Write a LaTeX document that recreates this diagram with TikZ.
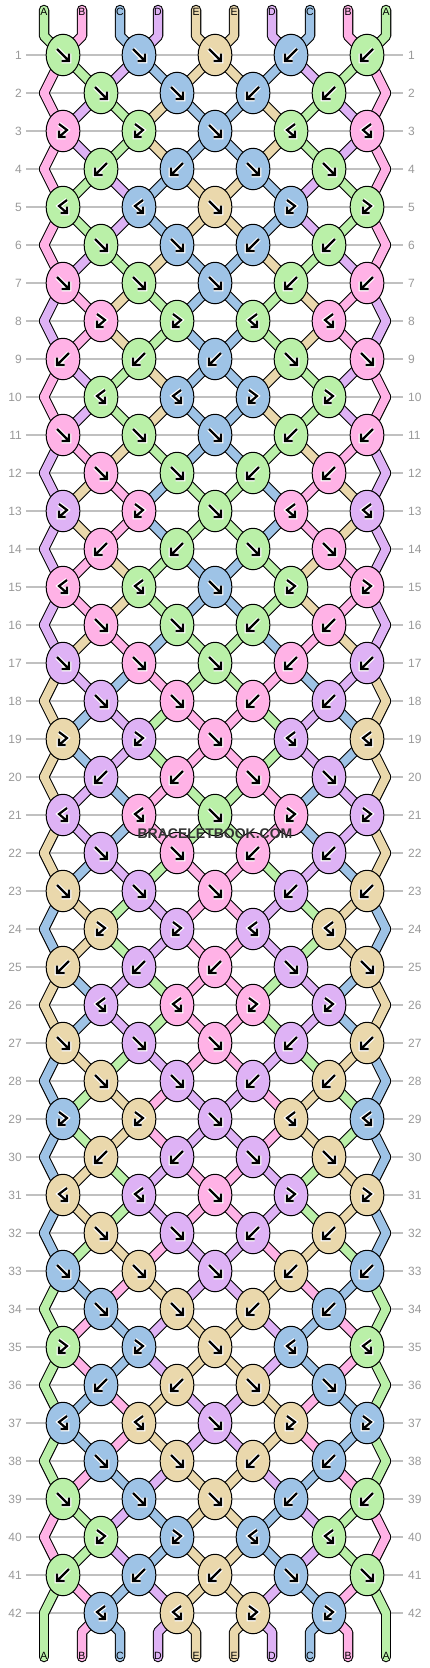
\documentclass[tikz,border=0pt]{standalone}
\usepackage{fontspec}
\setmainfont{Liberation Sans}
\usetikzlibrary{shapes.geometric}
\definecolor{cA}{HTML}{BAF0A8}
\definecolor{cB}{HTML}{FFB2E6}
\definecolor{cC}{HTML}{9EC3E6}
\definecolor{cD}{HTML}{DEB2F5}
\definecolor{cE}{HTML}{EAD8AC}
\definecolor{gridgray}{HTML}{C0C0C0}
\definecolor{numgray}{HTML}{999999}
\definecolor{wmgray}{HTML}{333333}
\def\setrow#1#2{\expandafter\def\csname rt#1\endcsname{#2}}
\setrow{1}{f,f,f,b,b}\setrow{2}{f,f,b,b}\setrow{3}{p,p,f,q,q}\setrow{4}{b,b,f,f}
\setrow{5}{q,q,f,p,p}\setrow{6}{f,f,b,b}\setrow{7}{f,f,f,b,b}\setrow{8}{p,p,q,q}
\setrow{9}{b,b,b,f,f}\setrow{10}{q,q,p,p}\setrow{11}{f,f,f,b,b}\setrow{12}{f,f,b,b}
\setrow{13}{p,p,f,q,q}\setrow{14}{b,b,f,f}\setrow{15}{q,q,f,p,p}\setrow{16}{f,f,b,b}
\setrow{17}{f,f,f,b,b}\setrow{18}{f,f,b,b}\setrow{19}{p,p,f,q,q}\setrow{20}{b,b,f,f}
\setrow{21}{q,q,f,p,p}\setrow{22}{f,f,b,b}\setrow{23}{f,f,f,b,b}\setrow{24}{p,p,q,q}
\setrow{25}{b,b,b,f,f}\setrow{26}{q,q,p,p}\setrow{27}{f,f,f,b,b}\setrow{28}{f,f,b,b}
\setrow{29}{p,p,f,q,q}\setrow{30}{b,b,f,f}\setrow{31}{q,q,f,p,p}\setrow{32}{f,f,b,b}
\setrow{33}{f,f,f,b,b}\setrow{34}{f,f,b,b}\setrow{35}{p,p,f,q,q}\setrow{36}{b,b,f,f}
\setrow{37}{q,q,f,p,p}\setrow{38}{f,f,b,b}\setrow{39}{f,f,f,b,b}\setrow{40}{p,p,q,q}
\setrow{41}{b,b,b,f,f}\setrow{42}{q,q,p,p}
\def\Tf{f}\def\Tb{b}\def\Tp{p}\def\Tq{q}
\tikzset{
 knot/.style={ellipse, draw=black, line width=1pt, minimum width=33.7pt, minimum height=41.5pt, inner sep=0pt},
 sblk/.style={draw=black, line width=10.5pt, line cap=round, line join=round},
 scol/.style={line width=8.3pt, line cap=round, line join=round},
 gly/.style={draw=black, line width=2.2pt, line join=miter, preaction={draw=white, line width=4.6pt, line cap=square}},
 gridline/.style={draw=gridgray, line width=1.3pt},
 rownum/.style={text=numgray, font=\fontsize{12}{14}\selectfont, inner sep=0pt},
 strlabel/.style={font=\fontsize{10.5}{12}\selectfont, inner sep=0pt},
}
\newcommand\glyf[1]{\draw[gly,shift={(#1)}] (-6,-6)--(6,6) (6,-1.5)--(6,6)--(-1.5,6);}
\newcommand\glyb[1]{\draw[gly,shift={(#1)}] (6,-6)--(-6,6) (-6,-1.5)--(-6,6)--(1.5,6);}
\newcommand\glyp[1]{\draw[gly,shift={(#1)}] (-4,-7)--(4,-1)--(-4,6) (-4,-0.5)--(-4,6)--(2.5,6);}
\newcommand\glyq[1]{\draw[gly,shift={(#1)}] (4,-7)--(-4,-1)--(4,6) (4,-0.5)--(4,6)--(-2.5,6);}
% ---- simulation (no drawing) ----
\foreach \i/\c in {0/cA,1/cB,2/cC,3/cD,4/cE,5/cE,6/cD,7/cC,8/cB,9/cA}{
  \expandafter\xdef\csname s\i\endcsname{\c}
  \expandafter\xdef\csname sc-0-\i\endcsname{\c}
}
\foreach \r in {1,...,42}{
  \edef\tl{\csname rt\r\endcsname}
  \foreach \ty [count=\j from 0] in \tl {
    \pgfmathtruncatemacro\kn{isodd(\r) ? 2*\j : 2*\j+1}
    \pgfmathtruncatemacro\knn{\kn+1}
    \edef\sL{\csname s\kn\endcsname}\edef\sR{\csname s\knn\endcsname}
    \ifx\ty\Tf \edef\kc{\sL}\expandafter\xdef\csname s\kn\endcsname{\sR}\expandafter\xdef\csname s\knn\endcsname{\sL}\fi
    \ifx\ty\Tb \edef\kc{\sR}\expandafter\xdef\csname s\kn\endcsname{\sR}\expandafter\xdef\csname s\knn\endcsname{\sL}\fi
    \ifx\ty\Tp \edef\kc{\sL}\fi
    \ifx\ty\Tq \edef\kc{\sR}\fi
    \expandafter\xdef\csname kc-\r-\kn\endcsname{\kc}
    \expandafter\xdef\csname kt-\r-\kn\endcsname{\ty}
  }
  \foreach \i in {0,...,9}{
    \expandafter\xdef\csname sc-\r-\i\endcsname{\csname s\i\endcsname}
  }
}
\begin{document}
\begin{tikzpicture}[x=1pt,y=-1pt]
\useasboundingbox (0,0) rectangle (430,1668);
\fill[white] (0,0) rectangle (430,1668);
% positions, grid lines, row numbers
\foreach \r in {1,...,42}{
  \pgfmathtruncatemacro\py{55+38*(\r-1)}
  \foreach \i in {0,...,9}{
    \pgfmathtruncatemacro\px{isodd(\r) ? 63+38*(\i-mod(\i,2)) : ((\i==0) ? 44 : ((\i==9) ? 386 : 63+38*(\i-1+mod(\i,2))))}
    \coordinate (P-\r-\i) at (\px,\py);
  }
  \draw[gridline] (26,\py) -- (403,\py);
  \node[rownum, anchor=east] (LN-\r) at (22,\py) {\r};
  \node[rownum, anchor=west] (RN-\r) at (408,\py) {\r};
}
\foreach \i in {0,...,9}{
  \pgfmathtruncatemacro\px{44+38*\i}
  \coordinate (T-\i) at (\px,10);
  \coordinate (TC-\i) at (\px,36);
  \coordinate (BC-\i) at (\px,1632);
  \coordinate (BE-\i) at (\px,1657);
}
% string outlines, then string colours
\foreach \pass in {0,1}{
  \foreach \i in {0,...,9}{
    \edef\col{\csname sc-0-\i\endcsname}
    \ifnum\pass=0 \draw[sblk] (T-\i) -- (TC-\i) -- (P-1-\i);
    \else \draw[scol, draw=\col] (T-\i) -- (TC-\i) -- (P-1-\i);\fi
    \edef\col{\csname sc-42-\i\endcsname}
    \ifnum\pass=0 \draw[sblk] (P-42-\i) -- (BC-\i) -- (BE-\i);
    \else \draw[scol, draw=\col] (P-42-\i) -- (BC-\i) -- (BE-\i);\fi
  }
  \foreach \r in {1,...,41}{
    \pgfmathtruncatemacro\rn{\r+1}
    \foreach \i in {0,...,9}{
      \edef\col{\csname sc-\r-\i\endcsname}
      \ifnum\pass=0 \draw[sblk] (P-\r-\i) -- (P-\rn-\i);
      \else \draw[scol, draw=\col] (P-\r-\i) -- (P-\rn-\i);\fi
    }
  }
}
% knots
\foreach \r in {1,...,42}{
  \edef\tl{\csname rt\r\endcsname}
  \foreach \ty [count=\j from 0] in \tl {
    \pgfmathtruncatemacro\kn{isodd(\r) ? 2*\j : 2*\j+1}
    \edef\kc{\csname kc-\r-\kn\endcsname}
    \node[knot, fill=\kc] (K-\r-\kn) at (P-\r-\kn) {};
    \csname gly\ty\endcsname{K-\r-\kn.center}
  }
}
% string labels
\foreach \i/\lab in {0/A,1/B,2/C,3/D,4/E,5/E,6/D,7/C,8/B,9/A}{
  \pgfmathtruncatemacro\px{44+38*\i}
  \node[strlabel] (TL-\i) at (\px,12) {\lab};
  \node[strlabel] (BL-\i) at (\px,1656) {\lab};
}
\node[font=\bfseries\fontsize{14}{14}\selectfont, text=wmgray, inner sep=0pt] (wm) at (215,834) {BRACELETBOOK.COM};
\end{tikzpicture}
\end{document}
